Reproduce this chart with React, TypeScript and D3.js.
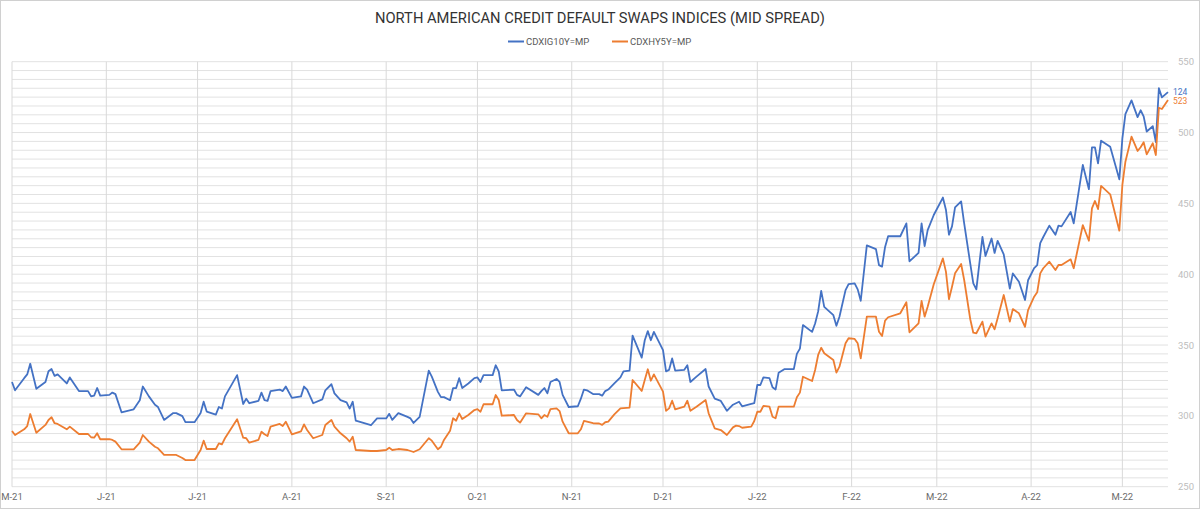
import { useEffect, useRef } from 'react'
import * as d3 from 'd3'

// Titre, légende, axes
const TITLE = 'NORTH AMERICAN CREDIT DEFAULT SWAPS INDICES (MID SPREAD)'
const SERIES_NAMES = ['CDXIG10Y=MP', 'CDXHY5Y=MP']
const Y_TICKS = [250, 300, 350, 400, 450, 500, 550]
const X_START = '2021-05-01'
const X_END = '2022-05-16'

// Observation dates (both series share them)
const DATES = [
  '2021-05-01', '2021-05-02', '2021-05-05', '2021-05-06', '2021-05-07', '2021-05-09', '2021-05-12', '2021-05-13',
  '2021-05-14', '2021-05-15', '2021-05-16', '2021-05-19', '2021-05-20', '2021-05-23', '2021-05-26', '2021-05-27',
  '2021-05-28', '2021-05-29', '2021-05-30', '2021-06-02', '2021-06-03', '2021-06-04', '2021-06-06', '2021-06-10',
  '2021-06-12', '2021-06-13', '2021-06-15', '2021-06-17', '2021-06-18', '2021-06-20', '2021-06-23', '2021-06-24',
  '2021-06-26', '2021-06-27', '2021-06-30', '2021-07-02', '2021-07-03', '2021-07-04', '2021-07-07', '2021-07-08',
  '2021-07-09', '2021-07-10', '2021-07-14', '2021-07-16', '2021-07-17', '2021-07-18', '2021-07-21', '2021-07-22',
  '2021-07-23', '2021-07-24', '2021-07-25', '2021-07-28', '2021-07-29', '2021-07-30', '2021-08-01', '2021-08-04',
  '2021-08-05', '2021-08-06', '2021-08-08', '2021-08-11', '2021-08-12', '2021-08-14', '2021-08-15', '2021-08-17',
  '2021-08-19', '2021-08-20', '2021-08-21', '2021-08-22', '2021-08-27', '2021-08-29', '2021-09-01', '2021-09-02',
  '2021-09-03', '2021-09-05', '2021-09-08', '2021-09-09', '2021-09-10', '2021-09-12', '2021-09-15', '2021-09-16',
  '2021-09-18', '2021-09-19', '2021-09-20', '2021-09-22', '2021-09-23', '2021-09-24', '2021-09-25', '2021-09-26',
  '2021-09-28', '2021-09-30', '2021-10-01', '2021-10-02', '2021-10-03', '2021-10-06', '2021-10-07', '2021-10-08',
  '2021-10-09', '2021-10-13', '2021-10-14', '2021-10-15', '2021-10-17', '2021-10-21', '2021-10-22', '2021-10-23',
  '2021-10-24', '2021-10-25', '2021-10-27', '2021-10-28', '2021-10-29', '2021-10-31', '2021-11-03', '2021-11-04',
  '2021-11-05', '2021-11-06', '2021-11-08', '2021-11-10', '2021-11-11', '2021-11-12', '2021-11-13', '2021-11-15',
  '2021-11-17', '2021-11-18', '2021-11-20', '2021-11-21', '2021-11-24', '2021-11-25', '2021-11-26', '2021-11-27',
  '2021-11-28', '2021-12-01', '2021-12-02', '2021-12-03', '2021-12-04', '2021-12-05', '2021-12-08', '2021-12-09',
  '2021-12-10', '2021-12-12', '2021-12-15', '2021-12-16', '2021-12-18', '2021-12-20', '2021-12-22', '2021-12-24',
  '2021-12-25', '2021-12-26', '2021-12-27', '2021-12-30', '2021-12-31', '2022-01-01', '2022-01-02', '2022-01-03',
  '2022-01-05', '2022-01-06', '2022-01-07', '2022-01-08', '2022-01-10', '2022-01-13', '2022-01-14', '2022-01-15',
  '2022-01-16', '2022-01-19', '2022-01-20', '2022-01-21', '2022-01-22', '2022-01-23', '2022-01-26', '2022-01-27',
  '2022-01-28', '2022-01-30', '2022-01-31', '2022-02-02', '2022-02-03', '2022-02-04', '2022-02-06', '2022-02-09',
  '2022-02-10', '2022-02-11', '2022-02-12', '2022-02-13', '2022-02-17', '2022-02-19', '2022-02-20', '2022-02-23',
  '2022-02-24', '2022-02-25', '2022-02-26', '2022-02-28', '2022-03-03', '2022-03-04', '2022-03-05', '2022-03-06',
  '2022-03-07', '2022-03-09', '2022-03-10', '2022-03-12', '2022-03-13', '2022-03-14', '2022-03-16', '2022-03-17',
  '2022-03-19', '2022-03-20', '2022-03-21', '2022-03-23', '2022-03-25', '2022-03-26', '2022-03-28', '2022-03-30',
  '2022-03-31', '2022-04-02', '2022-04-03', '2022-04-04', '2022-04-05', '2022-04-07', '2022-04-09', '2022-04-10',
  '2022-04-11', '2022-04-14', '2022-04-15', '2022-04-18', '2022-04-20', '2022-04-21', '2022-04-22', '2022-04-23',
  '2022-04-24', '2022-04-27', '2022-04-30', '2022-05-01', '2022-05-02', '2022-05-04', '2022-05-06', '2022-05-07',
  '2022-05-08', '2022-05-09', '2022-05-11', '2022-05-12', '2022-05-13', '2022-05-14', '2022-05-16',
]

// CDX IG 10Y (bp) — plotted on a hidden secondary axis
const IG10Y = [
  85.8, 84.7, 86.3, 86.8, 88.2, 84.9, 85.8, 87.2, 87.5, 86.6, 86.8, 85.6, 86.4, 84.6, 84.6, 83.9,
  84.0, 85.0, 84.0, 84.1, 84.4, 84.2, 81.8, 82.2, 83.4, 85.2, 83.9, 82.8, 82.5, 80.8, 81.7, 81.7,
  81.3, 80.5, 80.5, 81.7, 83.2, 81.9, 81.5, 82.5, 82.3, 83.9, 86.7, 82.9, 83.6, 83.0, 83.3, 84.4,
  83.4, 83.3, 84.6, 84.8, 84.6, 85.2, 83.7, 83.9, 85.2, 84.8, 83.0, 83.5, 84.7, 85.5, 84.3, 83.4,
  83.1, 82.3, 83.2, 80.7, 80.1, 81.0, 81.0, 81.6, 80.8, 81.7, 81.2, 81.0, 80.4, 81.2, 87.3, 86.5,
  84.5, 83.8, 83.8, 83.4, 85.0, 85.0, 86.3, 85.0, 85.6, 86.3, 86.4, 85.8, 86.7, 86.7, 88.0, 87.2,
  84.7, 84.8, 84.1, 83.9, 85.1, 84.1, 84.6, 85.0, 84.3, 85.8, 86.2, 85.8, 84.1, 82.5, 82.6, 83.6,
  84.8, 84.7, 84.2, 84.2, 84.0, 84.6, 84.8, 85.6, 86.4, 87.2, 87.3, 91.9, 89.0, 91.3, 92.5, 91.3,
  92.4, 90.0, 87.2, 87.4, 88.9, 87.3, 87.4, 88.0, 85.8, 86.5, 87.5, 85.2, 83.6, 83.3, 82.0, 82.8,
  83.0, 83.2, 82.6, 82.9, 83.0, 85.4, 85.4, 86.4, 86.3, 85.1, 84.8, 87.0, 87.5, 87.5, 89.5, 90.2,
  93.3, 92.4, 93.5, 95.1, 97.8, 95.7, 94.6, 93.2, 94.4, 97.9, 98.7, 98.8, 98.0, 96.5, 103.8, 103.3,
  101.2, 101.0, 103.6, 105.0, 105.0, 106.7, 101.7, 102.8, 106.7, 103.7, 105.8, 107.8, 110.1, 108.5, 105.2, 106.3,
  108.8, 109.6, 106.7, 101.4, 98.8, 98.0, 104.9, 102.4, 104.7, 102.8, 104.4, 102.6, 98.1, 100.1, 99.0, 96.6,
  99.2, 100.8, 101.2, 104.1, 104.9, 106.4, 105.2, 106.4, 106.3, 108.2, 106.7, 114.4, 111.2, 116.7, 116.7, 114.6,
  117.6, 116.8, 112.5, 117.9, 121.1, 122.9, 120.7, 121.6, 120.8, 118.8, 119.5, 117.4, 124.5, 123.3, 124.0,
]

// CDX HY 5Y (price, right axis)
const HY5Y = [
  289.3, 286.5, 290.5, 292.8, 301.3, 288.1, 293.6, 297.1, 299.0, 294.8, 294.3, 290.5, 292.4, 287.2, 287.2, 284.9,
  284.6, 287.7, 283.5, 283.5, 283.0, 281.8, 276.4, 276.4, 281.1, 286.5, 281.8, 278.2, 277.1, 272.4, 272.4, 272.4,
  270.3, 268.8, 268.8, 275.9, 282.5, 276.6, 276.6, 280.6, 279.9, 284.2, 297.6, 284.6, 284.2, 281.1, 283.0, 288.8,
  287.0, 285.8, 292.4, 294.3, 292.8, 295.9, 287.0, 289.1, 294.0, 290.0, 284.2, 286.5, 293.6, 297.1, 292.4, 287.7,
  284.2, 281.8, 285.3, 275.9, 275.2, 275.2, 275.9, 277.5, 275.9, 276.6, 275.9, 275.2, 274.5, 276.4, 284.2, 282.5,
  276.4, 278.2, 283.0, 289.5, 298.3, 296.6, 301.8, 297.8, 300.6, 304.1, 304.8, 302.9, 308.2, 308.2, 314.7, 311.2,
  300.1, 300.6, 297.1, 295.2, 301.8, 301.1, 298.3, 300.6, 299.4, 304.8, 305.3, 303.4, 295.9, 287.7, 287.7, 290.5,
  296.4, 295.9, 294.8, 294.6, 293.6, 295.5, 295.9, 301.1, 305.3, 305.5, 305.8, 325.3, 317.6, 325.3, 332.9, 324.8,
  329.3, 317.1, 303.6, 305.3, 310.7, 304.6, 306.5, 310.7, 303.6, 306.5, 311.2, 301.8, 291.2, 290.0, 286.5, 291.9,
  293.1, 292.8, 291.6, 292.4, 296.4, 302.9, 302.9, 307.0, 306.5, 299.4, 298.3, 306.5, 306.5, 306.5, 313.1, 316.4,
  327.6, 324.6, 332.4, 343.0, 348.1, 344.2, 339.4, 330.5, 334.7, 351.2, 354.8, 354.3, 351.2, 340.6, 370.0, 370.0,
  359.4, 356.4, 367.2, 369.6, 372.4, 380.2, 359.0, 365.3, 381.1, 370.0, 377.1, 392.9, 411.2, 401.8, 382.3, 391.2,
  400.6, 407.2, 395.9, 368.2, 358.7, 358.3, 366.5, 355.9, 365.3, 361.1, 368.9, 385.3, 366.5, 375.4, 372.4, 362.9,
  374.7, 384.1, 387.2, 400.6, 404.2, 408.8, 403.0, 406.5, 406.5, 410.5, 404.2, 434.7, 423.6, 446.5, 451.7, 446.0,
  462.3, 456.4, 430.7, 463.0, 479.4, 497.1, 487.0, 489.6, 493.1, 484.6, 492.4, 484.1, 517.5, 516.6, 523.0,
]

const COLORS = ['#4472c4', '#ed7d31']
const WIDTH = 1200
const HEIGHT = 509
const PLOT = { left: 12, right: 1168, top: 61.7, bottom: 486.7 }
const FONT = 'Roboto, "Noto Sans", sans-serif'

export default function App() {
  const svgRef = useRef<SVGSVGElement | null>(null)

  useEffect(() => {
    if (!svgRef.current) return
    const parse = d3.timeParse('%Y-%m-%d')
    const dates = DATES.map((d) => parse(d) as Date)

    const x = d3.scaleTime()
      .domain([parse(X_START) as Date, parse(X_END) as Date])
      .range([PLOT.left, PLOT.right])
    const yHY = d3.scaleLinear().domain([250, 550]).range([PLOT.bottom, PLOT.top])
    // hidden axis for IG 10Y
    const yIG = d3.scaleLinear().domain([72, 128]).range([PLOT.bottom, PLOT.top])

    const svg = d3.select(svgRef.current)
    svg.selectAll('*').remove()
    svg.attr('width', WIDTH).attr('height', HEIGHT)

    svg.append('rect')
      .attr('x', 0.5).attr('y', 0.5).attr('width', WIDTH - 1).attr('height', HEIGHT - 1)
      .attr('fill', '#fff').attr('stroke', '#d0d0d0')

    // ── Grid ──────────────────────────────────────────────
    const minor = d3.range(250, 550.01, 6.25)
    svg.append('g').selectAll('line').data(minor).join('line')
      .attr('x1', PLOT.left).attr('x2', PLOT.right)
      .attr('y1', (d) => yHY(d)).attr('y2', (d) => yHY(d))
      .attr('stroke', '#e2e2e2').attr('stroke-width', 1)

    const months = d3.timeMonth.range(x.domain()[0], x.domain()[1])
    svg.append('g').selectAll('line').data(months).join('line')
      .attr('x1', (d) => x(d)).attr('x2', (d) => x(d))
      .attr('y1', PLOT.top).attr('y2', PLOT.bottom)
      .attr('stroke', '#d9d9d9').attr('stroke-width', 1)

    // ── Axes labels ──────────────────────────────────────
    const monthFmt = d3.timeFormat('%b')
    const yearFmt = d3.timeFormat('%y')
    svg.append('g').selectAll('text').data(months).join('text')
      .attr('x', (d) => x(d)).attr('y', 500)
      .attr('text-anchor', 'middle')
      .attr('font-family', FONT).attr('font-size', 9.5).attr('fill', '#6b6b6b')
      .text((d) => `${monthFmt(d)[0]}-${yearFmt(d)}`)

    svg.append('g').selectAll('text').data(Y_TICKS).join('text')
      .attr('x', 1178).attr('y', (d) => yHY(d) + 3.5)
      .attr('font-family', FONT).attr('font-size', 9.5).attr('fill', '#bdbdbd')
      .text((d) => d)

    // ── Lines ───────────────────────────────────────────
    const seriesData = [
      { values: IG10Y, y: yIG, dy: 2.5 },
      { values: HY5Y, y: yHY, dy: 4.5 },
    ]
    seriesData.forEach((s, i) => {
      const line = d3.line<number>()
        .x((_, j) => x(dates[j]))
        .y((v) => s.y(v))
      svg.append('path')
        .datum(s.values)
        .attr('d', line)
        .attr('fill', 'none')
        .attr('stroke', COLORS[i])
        .attr('stroke-width', 1.8)
        .attr('stroke-linejoin', 'round')
    })

    // end labels (slightly pushed apart so they don't collide)
    seriesData.forEach((s, i) => {
      const last = s.values[s.values.length - 1]
      svg.append('text')
        .attr('x', 1173).attr('y', s.y(last) + s.dy)
        .attr('font-family', FONT).attr('font-size', 8.5).attr('fill', COLORS[i])
        .text(Math.round(last))
    })

    // ── Title & legend ───────────────────────────────────
    svg.append('text')
      .attr('x', 600).attr('y', 23.3)
      .attr('text-anchor', 'middle')
      .attr('font-family', FONT).attr('font-size', 15).attr('fill', '#333')
      .attr('textLength', 450).attr('lengthAdjust', 'spacingAndGlyphs')
      .text(TITLE)

    const legendX = [508, 612]
    SERIES_NAMES.forEach((name, i) => {
      const g = svg.append('g').attr('transform', `translate(${legendX[i]},41.5)`)
      g.append('line').attr('x1', 0).attr('x2', 16).attr('stroke', COLORS[i]).attr('stroke-width', 2)
      g.append('text').attr('x', 18).attr('y', 3.5)
        .attr('font-family', FONT).attr('font-size', 9.5).attr('fill', '#595959')
        .text(name)
    })
  }, [])

  return (
    <svg ref={svgRef} style={{ position: 'absolute', left: 0, top: 0, display: 'block' }} />
  )
}
